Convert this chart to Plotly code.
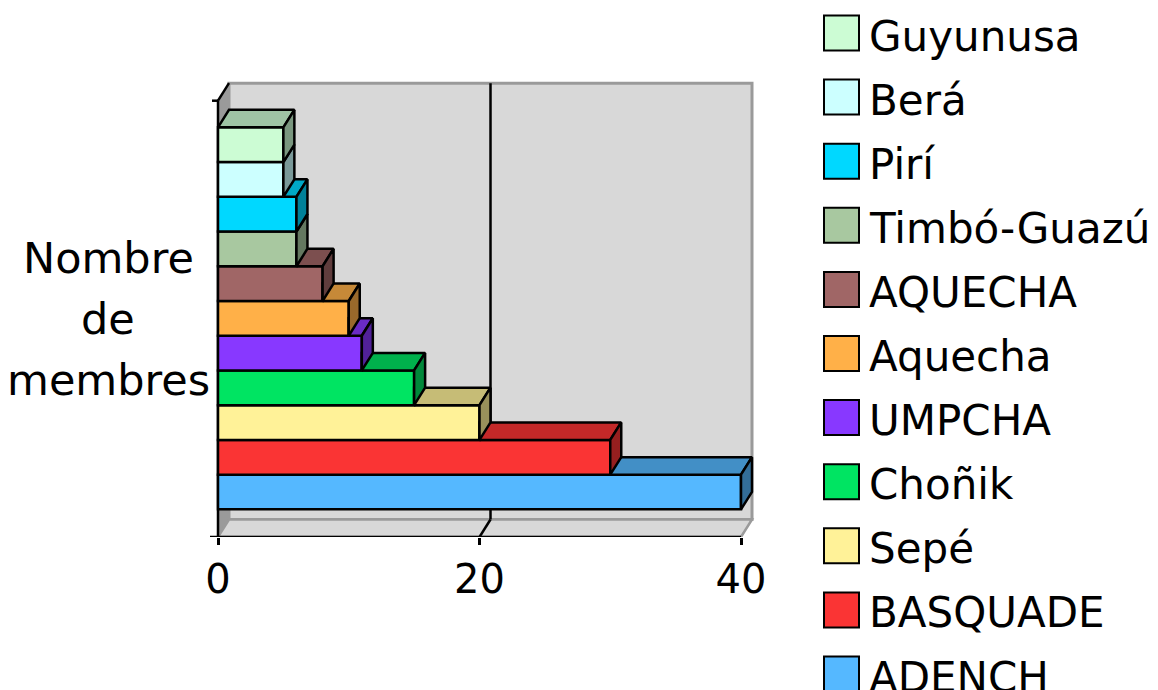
import plotly.graph_objects as go

# ---------------- data ----------------
series = ["ADENCH", "BASQUADE", "Sepé", "Choñik", "UMPCHA", "Aquecha",
          "AQUECHA", "Timbó-Guazú", "Pirí", "Berá", "Guyunusa"]
values = [40, 30, 20, 15, 11, 10, 8, 6, 6, 5, 5]
colors = ["#55b8ff", "#fa3434", "#fff298", "#00e462", "#8838ff", "#ffb048",
          "#a06666", "#a8c8a0", "#00d8ff", "#ccffff", "#ccfcd4"]
category = "Nombre de membres"
x_ticks = [0, 20, 40]

# ---------------- geometry / style ----------------
OFF = 8                 # page body margin
W, H = 1158 - OFF, 690 - OFF
FONT = "DejaVu Sans"
PX_X = 13.075          # pixels per value unit
PX_Y = 34.73           # pixels per category slot
DX = 11 / PX_X         # 3-D depth offset (x, data units)
DY = 17.5 / PX_Y       # 3-D depth offset (y, data units)
YBOT = (492 - 537) / PX_Y
YTOP = (492 - 100.7) / PX_Y
XMAX = max(x_ticks)
LW = 2.5
LEG_STEP = 64.1         # legend row pitch (px)
LEG_Y0 = 674            # page y of first legend row centre
LEG_X = 841.5           # page x of legend square centre


def fx(p):  # page pixel x -> paper fraction
    return (p - OFF) / W


def fy(p):  # page pixel y -> paper fraction
    return (H - (p - OFF)) / H


def shade(hexcol, f):
    h = hexcol.lstrip("#")
    r, g, b = (int(h[k:k + 2], 16) for k in (0, 2, 4))
    return "rgb(%d,%d,%d)" % (r * f, g * f, b * f)


n = len(values)
fig = go.Figure()

# front faces of bars
fig.add_trace(go.Bar(
    orientation="h", y=list(range(n)), x=values, width=1,
    marker=dict(color=colors, line=dict(color="black", width=LW)),
    showlegend=False, hoverinfo="skip", xaxis="x", yaxis="y"))

# top and right faces (drawn bottom bar first so upper bars overlap correctly)
for i, v in enumerate(values):
    yt = i + 0.5
    yb = i - 0.5
    w = values[i + 1] if i + 1 < n else 0
    if w < v:
        if w <= 0:
            xs = [0, v, v + DX, DX, 0]
        else:
            xs = [w, v, v + DX, w, w]
        ys = [yt, yt, yt + DY, yt + DY, yt]
        fig.add_trace(go.Scatter(
            x=xs, y=ys, mode="lines", fill="toself",
            fillcolor=shade(colors[i], 0.78),
            line=dict(color="black", width=LW),
            showlegend=False, hoverinfo="skip"))
    fig.add_trace(go.Scatter(
        x=[v, v, v + DX, v + DX, v], y=[yb, yt, yt + DY, yb + DY, yb],
        mode="lines", fill="toself", fillcolor=shade(colors[i], 0.6),
        line=dict(color="black", width=LW),
        showlegend=False, hoverinfo="skip"))

# legend built from the series (second, hidden axes)
fig.add_trace(go.Scatter(
    x=[0] * n, y=list(range(n)), mode="markers",
    marker=dict(symbol="square", size=35, color=colors,
                line=dict(color="black", width=2)),
    cliponaxis=False, showlegend=False, hoverinfo="skip",
    xaxis="x2", yaxis="y2"))

annotations = []
for i, name in enumerate(series):
    annotations.append(dict(
        text=name, xref="x2", yref="y2", x=0, y=i, showarrow=False,
        xanchor="left", yanchor="middle", xshift=25, yshift=-3,
        font=dict(family=FONT, size=42, color="black")))

# walls, floor, gridline, axis lines
shapes = []
shapes.append(dict(type="rect", xref="x", yref="y", layer="below",
                   x0=DX, x1=XMAX + DX, y0=YBOT + DY, y1=YTOP + DY,
                   fillcolor="#d8d8d8", line=dict(color="#9a9a9a", width=3)))
shapes.append(dict(type="path", xref="x", yref="y", layer="below",
                   path="M0,%f L%f,%f L%f,%f L0,%f Z" % (
                       YBOT, DX, YBOT + DY, DX, YTOP + DY, YTOP),
                   fillcolor="#9a9a9a", line=dict(width=0)))
shapes.append(dict(type="path", xref="x", yref="y", layer="below",
                   path="M0,%f L%f,%f L%f,%f L%f,%f Z" % (
                       YBOT, XMAX, YBOT, XMAX + DX, YBOT + DY, DX, YBOT + DY),
                   fillcolor="#d8d8d8", line=dict(color="#9a9a9a", width=2.5)))
for t in x_ticks[1:-1]:
    shapes.append(dict(type="line", xref="x", yref="y", layer="below",
                       x0=t + DX, x1=t + DX, y0=YBOT + DY, y1=YTOP + DY,
                       line=dict(color="black", width=LW)))
    shapes.append(dict(type="line", xref="x", yref="y", layer="below",
                       x0=t, x1=t + DX, y0=YBOT, y1=YBOT + DY,
                       line=dict(color="black", width=LW)))
shapes.append(dict(type="line", xref="x", yref="y", layer="below",
                   x0=-8 / PX_X, x1=XMAX, y0=YBOT, y1=YBOT,
                   line=dict(color="black", width=LW)))
shapes.append(dict(type="line", xref="x", yref="y", layer="below",
                   x0=0, x1=0, y0=YBOT, y1=YTOP,
                   line=dict(color="black", width=LW)))
shapes.append(dict(type="line", xref="x", yref="y", layer="below",
                   x0=-6 / PX_X, x1=0, y0=YTOP, y1=YTOP,
                   line=dict(color="black", width=LW)))
shapes.append(dict(type="line", xref="x", yref="y", layer="below",
                   x0=0, x1=DX, y0=YTOP, y1=YTOP + DY,
                   line=dict(color="black", width=LW)))

# category title (three lines)
for k, word in enumerate(category.split(" ")):
    annotations.append(dict(
        text=word, xref="paper", yref="paper", showarrow=False,
        x=fx(108), y=fy(258 + 61 * k), xanchor="center", yanchor="middle",
        font=dict(family=FONT, size=43, color="black")))

leg_x0 = 799
fig.update_layout(
    width=W, height=H, margin=dict(l=0, r=0, t=0, b=0),
    paper_bgcolor="white", plot_bgcolor="rgba(0,0,0,0)",
    barmode="overlay", showlegend=False,
    shapes=shapes, annotations=annotations,
    xaxis=dict(domain=[fx(200), fx(770)],
               range=[(200 - 218) / PX_X, (770 - 218) / PX_X],
               tickvals=x_ticks, ticks="outside", ticklen=7, tickwidth=LW,
               tickcolor="black", showgrid=False, zeroline=False, showline=False,
               tickfont=dict(family=FONT, size=40, color="black"),
               automargin=False, fixedrange=True),
    yaxis=dict(domain=[fy(537), fy(70)],
               range=[YBOT, (492 - 70) / PX_Y],
               visible=False, automargin=False, fixedrange=True),
    xaxis2=dict(domain=[fx(leg_x0), 1.0],
                range=[-(LEG_X - leg_x0) / (1158 - leg_x0),
                       (1158 - LEG_X) / (1158 - leg_x0)],
                anchor="y2", visible=False, fixedrange=True),
    yaxis2=dict(domain=[0, 1],
                range=[(LEG_Y0 - 690) / LEG_STEP, (LEG_Y0 - OFF) / LEG_STEP],
                anchor="x2", visible=False, fixedrange=True),
)

fig.write_html("out.html")
